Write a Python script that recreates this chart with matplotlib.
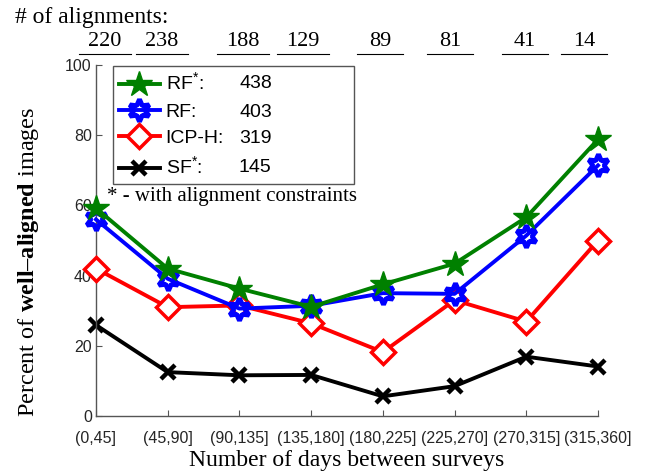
import numpy as np
import matplotlib
matplotlib.use("Agg")
from matplotlib import pyplot as plt

plt.rcParams['font.family'] = ['Liberation Sans', 'DejaVu Sans']
plt.rcParams['mathtext.fontset'] = 'custom'
plt.rcParams['mathtext.rm'] = 'Liberation Sans'
plt.rcParams['mathtext.bf'] = 'Liberation Serif:bold'

bins = ["(0,45]", "(45,90]", "(90,135]", "(135,180]", "(180,225]",
        "(225,270]", "(270,315]", "(315,360]"]
n_alignments = [220, 238, 188, 129, 89, 81, 41, 14]

rf_star = [59.2, 42.0, 36.3, 31.1, 37.5, 43.4, 56.6, 78.8]
rf = [56.0, 39.1, 30.6, 31.4, 35.0, 34.8, 51.4, 71.4]
icp_h = [42.0, 31.0, 31.5, 26.4, 18.2, 33.0, 26.9, 50.0]
sf_star = [25.9, 12.5, 11.6, 11.7, 5.6, 8.5, 16.9, 14.1]

names = ["RF$^{*}$:", "RF:", "ICP-H:", "SF$^{*}$:"]
totals = [438, 403, 319, 145]

serif = ['Liberation Serif', 'DejaVu Serif']

fig = plt.figure(figsize=(6.46, 4.74), dpi=100)
ax = fig.add_axes([96 / 646, 58 / 474, 502 / 646, 351 / 474])

x = np.arange(len(bins))
lw = 2.8
ax.plot(x, rf_star, '-', color='green', lw=lw, marker='*', ms=19,
        mfc='green', mec='green', clip_on=False, zorder=5, label=names[0])
ax.plot(x, rf, '-', color='blue', lw=lw, marker=(6, 1, 0), ms=16,
        mfc='none', mec='blue', mew=3.5, clip_on=False, zorder=4, label=names[1])
ax.plot(x, icp_h, '-', color='red', lw=lw, marker='D', ms=12,
        mfc='white', mec='red', mew=2.5, clip_on=False, zorder=3, label=names[2])
ax.plot(x, sf_star, '-', color='black', lw=lw, marker='x', ms=10,
        mec='black', mew=3.2, clip_on=False, zorder=2, label=names[3])

ax.set_xlim(0, 7)
ax.set_ylim(0, 100)
ax.set_xticks(x)
ax.set_xticklabels(bins, fontsize=11.5, color='#262626')
ax.set_yticks(range(0, 101, 20))
ax.tick_params(axis='y', labelsize=11.5, labelcolor='#262626', pad=3)
ax.tick_params(axis='x', pad=10.5)
ax.tick_params(direction='in', length=4, color='#555555')
for s in ['top', 'right']:
    ax.spines[s].set_visible(False)
for s in ['left', 'bottom']:
    ax.spines[s].set_color('#555555')
    ax.spines[s].set_linewidth(1.0)

ax.set_xlabel("Number of days between surveys", family=serif, fontsize=17, labelpad=3)
ax.set_ylabel("Percent of $\\mathbf{well\u2013aligned}$ images", family=serif,
              fontsize=17.5)
ax.yaxis.set_label_coords(-0.11, 0.44)

leg = ax.legend(loc='upper left', bbox_to_anchor=(17 / 502, 0.0, 241 / 502, 0.997),
                mode='expand', fontsize=14, handlelength=2.1, handletextpad=0.3,
                labelspacing=0.45, borderpad=0.3, borderaxespad=0.0,
                fancybox=False, framealpha=1, edgecolor='#555555')
leg.get_frame().set_linewidth(1.0)

fig.canvas.draw()
inv = fig.transFigure.inverted()
for t, n in zip(leg.get_texts(), totals):
    bb = t.get_window_extent()
    yc = inv.transform((0, (bb.y0 + bb.y1) / 2))[1]
    fig.text(239 / 646, yc, str(n), fontsize=14, ha='left', va='center')

fig.text(107 / 646, 1 - 196 / 474, "* - with alignment constraints",
         family=serif, fontsize=15, ha='left', va='center')

# header row with alignment counts
fig.text(15 / 646, 1 - 18 / 474, "# of alignments:", family=serif,
         fontsize=17, ha='left', va='center')
centers = [105, 162, 243, 303, 380, 450, 525, 584]
half = [26, 26, 26, 26, 23, 23, 23, 23]
for c, h, n in zip(centers, half, n_alignments):
    fig.text(c / 646, 1 - 41 / 474, str(n), family=serif, fontsize=16,
             ha='center', va='center')
    fig.add_artist(plt.Line2D([(c - h) / 646, (c + h) / 646],
                              [1 - 54 / 474, 1 - 54 / 474],
                              color='black', lw=0.8))

fig.savefig("out.png", dpi=100)
